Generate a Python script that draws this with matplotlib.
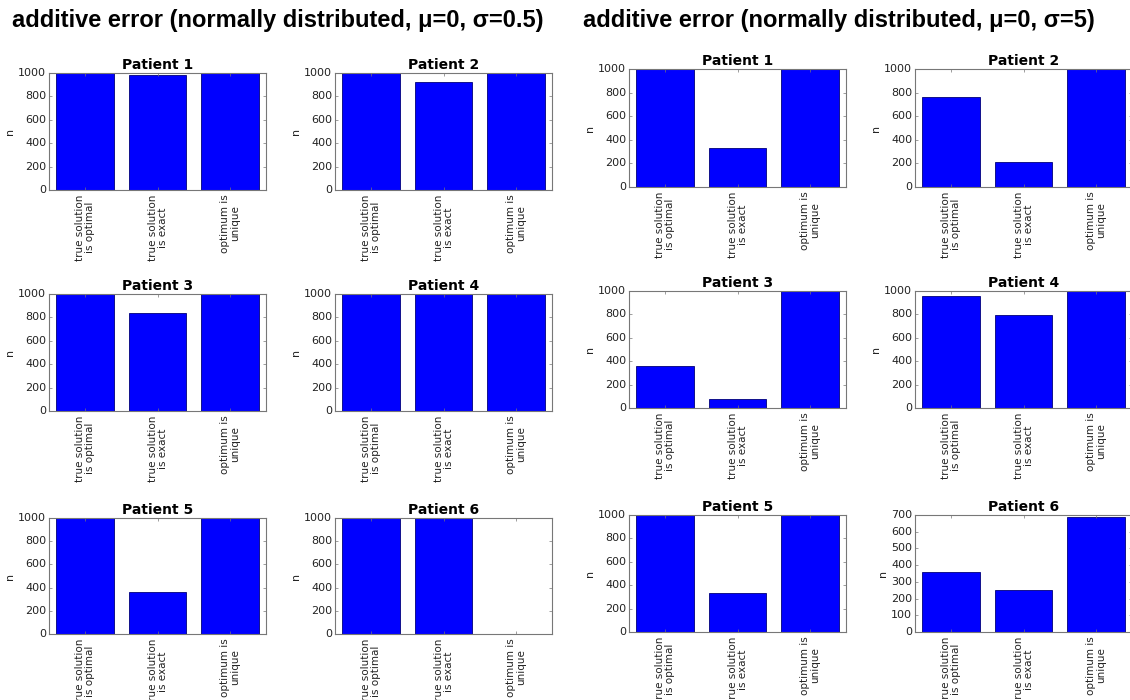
import matplotlib
matplotlib.use("Agg")
import matplotlib.pyplot as plt

plt.style.use('classic')
plt.rcParams['font.family'] = ['DejaVu Sans']

W, H = 1130, 700

categories = ["true solution\nis optimal", "true solution\nis exact", "optimum is\nunique"]
patients = ["Patient 1", "Patient 2", "Patient 3", "Patient 4", "Patient 5", "Patient 6"]

titles = ["additive error (normally distributed, μ=0, σ=0.5)",
          "additive error (normally distributed, μ=0, σ=5)"]

# sigma = 0.5
small_p1 = [1000, 985, 1000]
small_p2 = [1000, 925, 1000]
small_p3 = [1000, 835, 1000]
small_p4 = [1000, 998, 1000]
small_p5 = [1000, 365, 1000]
small_p6 = [1000, 1000, 0]

# sigma = 5
large_p1 = [1000, 330, 1000]
large_p2 = [765, 215, 1000]
large_p3 = [355, 78, 1000]
large_p4 = [955, 795, 1000]
large_p5 = [1000, 335, 1000]
large_p6 = [360, 250, 690]

groups = [
    [small_p1, small_p2, small_p3, small_p4, small_p5, small_p6],
    [large_p1, large_p2, large_p3, large_p4, large_p5, large_p6],
]

fig = plt.figure(figsize=(W / 100, H / 100), dpi=100)
fig.patch.set_facecolor('white')

def px_rect(l, t, r, b):
    return [l / W, 1 - b / H, (r - l) / W, (b - t) / H]

layouts = [
    {"cols": [(49, 266), (335, 552)], "rows": [(73, 190), (294, 411), (518, 634)]},
    {"cols": [(629, 846), (915, 1132)], "rows": [(69, 187), (291, 408), (515, 632)]},
]

spine_color = '#777777'
for g, (data, lay) in enumerate(zip(groups, layouts)):
    for i, vals in enumerate(data):
        r, c = divmod(i, 2)
        l, rr = lay["cols"][c]
        t, b = lay["rows"][r]
        ax = fig.add_axes(px_rect(l, t, rr, b))
        x = list(range(len(categories)))
        ax.bar(x, vals, width=0.8, align='center', color='#0000ff', edgecolor='#00007a', linewidth=0.6)
        ax.set_xlim(-0.5, len(categories) - 0.5)
        ax.set_xticks(x)
        ax.set_xticklabels(categories, rotation=90, fontsize=7.5, color='#222222', linespacing=1.0)
        ax.tick_params(axis='y', labelsize=8, labelcolor='#222222', length=2, color=spine_color, pad=2)
        ax.tick_params(axis='x', length=2, color=spine_color, pad=3)
        ax.set_ylabel('n', fontsize=8, color='#222222', labelpad=2)
        ax.set_title(patients[i], fontsize=10, fontweight='bold', pad=3)
        for s in ax.spines.values():
            s.set_color(spine_color)
            s.set_linewidth(0.8)

fig.text(12 / W, 1 - 21 / H, titles[0], fontsize=17, fontweight='bold',
         family='Liberation Sans', ha='left', va='center')
fig.text(583 / W, 1 - 21 / H, titles[1], fontsize=17, fontweight='bold',
         family='Liberation Sans', ha='left', va='center')

fig.savefig('out.png', dpi=100, facecolor='white')
